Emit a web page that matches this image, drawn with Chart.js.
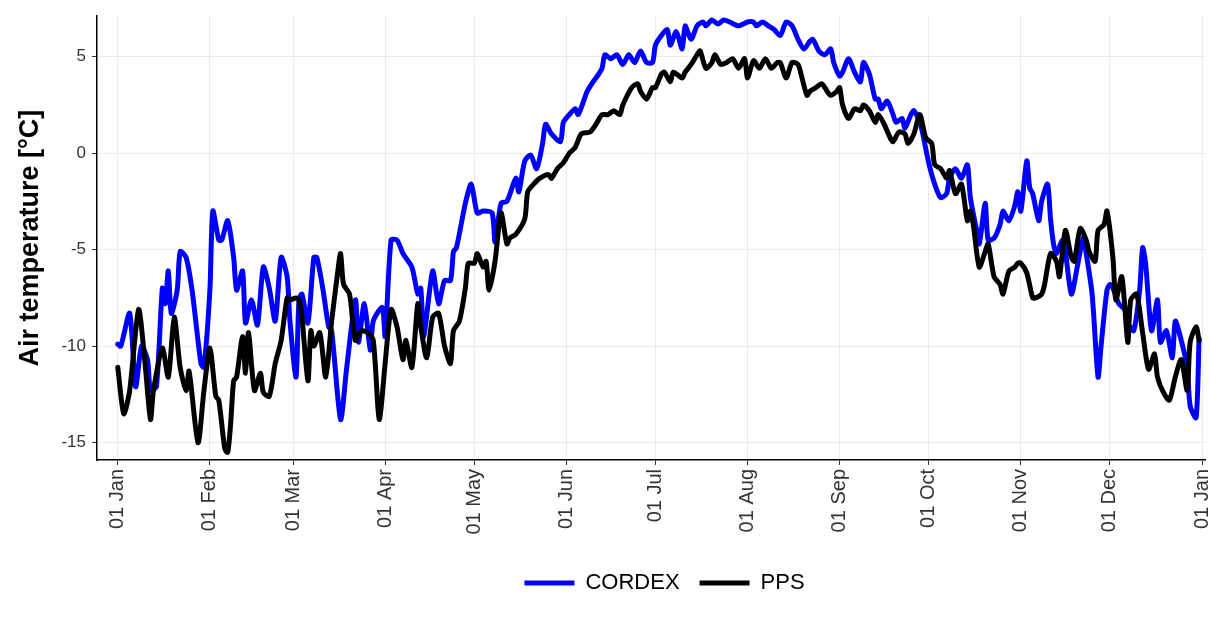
<!DOCTYPE html>
<html>
<head>
<meta charset="utf-8">
<script src="https://cdn.jsdelivr.net/npm/chart.js@4.4.1/dist/chart.umd.min.js"></script>
<style>
  body { margin: 0; background: #fff; }
  #wrap { width: 1211px; height: 622px; }
</style>
</head>
<body>
<div id="wrap"><canvas id="tempChart" width="1211" height="622"></canvas></div>
<script>
// Month tick positions (day of year) and labels
const monthDays = [0, 31, 59, 90, 120, 151, 181, 212, 243, 273, 304, 334, 365];
const monthLabels = ['01 Jan', '01 Feb', '01 Mar', '01 Apr', '01 May', '01 Jun', '01 Jul',
  '01 Aug', '01 Sep', '01 Oct', '01 Nov', '01 Dec', '01 Jan'];
const tempTicks = [-15, -10, -5, 0, 5];

// CORDEX series (day of year, air temperature in °C)
const cordexDays = [0, 1, 4, 6, 8, 10, 11, 13, 15, 16, 17, 18, 20, 21, 23, 25, 28, 29, 31, 32,
  34, 35, 37, 39, 40, 42, 43, 45, 47, 49, 51, 53, 55, 57, 58, 60, 61, 62, 64, 66,
  67, 69, 71, 72, 75, 77, 80, 81, 83, 85, 86, 89, 90, 92, 94, 96, 99, 101, 102, 103,
  106, 108, 110, 112, 113, 114, 117, 119, 121, 123, 126, 127, 129, 131, 134, 135, 137, 139, 141, 143,
  144, 146, 149, 150, 152, 154, 155, 158, 160, 161, 163, 164, 166, 168, 170, 172, 174, 176, 178, 180,
  181, 183, 185, 186, 188, 190, 191, 193, 195, 197, 198, 200, 202, 204, 206, 209, 212, 214, 215, 217,
  219, 221, 223, 225, 227, 229, 231, 233, 234, 236, 238, 240, 241, 243, 244, 246, 248, 250, 251, 253,
  255, 256, 257, 259, 261, 262, 264, 265, 267, 268, 270, 271, 273, 275, 277, 279, 280, 282, 284, 286,
  287, 289, 290, 292, 293, 295, 297, 298, 300, 302, 303, 304, 306, 307, 308, 310, 311, 313, 314, 315,
  316, 318, 319, 321, 323, 325, 326, 328, 330, 331, 333, 334, 335, 337, 339, 340, 342, 344, 345, 346,
  348, 350, 351, 353, 355, 356, 358, 360, 361, 363, 364];
const cordexTemp = [-9.9, -10.0, -8.3, -12.1, -10.0, -10.7, -12.3, -12.1, -7.0, -7.8, -6.1, -8.3, -7.1, -5.1, -5.4, -7.1, -10.9, -11.1, -7.1, -3.0,
  -4.5, -4.5, -3.5, -5.4, -7.1, -6.1, -8.8, -7.6, -8.9, -5.9, -7.0, -8.7, -5.4, -6.4, -8.8, -11.6, -7.6, -7.3, -8.8, -5.4,
  -5.4, -7.0, -9.0, -9.2, -13.8, -11.2, -7.6, -9.8, -7.8, -10.2, -8.7, -8.0, -9.5, -4.5, -4.5, -5.2, -5.9, -7.3, -7.0, -9.5,
  -6.1, -7.8, -6.6, -6.6, -5.1, -4.9, -2.6, -1.6, -3.1, -3.0, -3.1, -4.6, -2.6, -2.5, -1.3, -2.0, -0.4, -0.1, -0.8, 0.5,
  1.5, 1.0, 0.6, 1.6, 2.0, 2.3, 2.0, 3.2, 3.7, 3.9, 4.4, 5.1, 4.9, 5.1, 4.6, 5.1, 4.7, 5.3, 4.7, 4.7,
  5.6, 6.1, 6.4, 5.6, 6.3, 5.4, 6.6, 5.9, 6.6, 6.8, 6.6, 6.9, 6.7, 6.9, 6.8, 6.6, 6.8, 6.8, 6.6, 6.8,
  6.6, 6.4, 6.1, 6.8, 6.6, 5.9, 5.4, 5.8, 5.9, 5.3, 5.1, 5.4, 4.7, 4.0, 4.2, 4.9, 4.2, 3.7, 4.7, 4.1,
  2.8, 2.8, 2.3, 2.7, 2.0, 1.6, 1.8, 1.3, 2.0, 2.2, 1.6, 1.0, -0.5, -1.6, -2.3, -2.1, -1.3, -0.8, -1.3, -0.6,
  -2.3, -3.9, -4.7, -2.6, -4.5, -4.4, -3.7, -3.0, -3.5, -2.7, -2.0, -3.0, -0.4, -1.8, -2.1, -3.5, -2.5, -1.6, -3.4, -4.7,
  -5.2, -4.5, -5.1, -7.3, -5.9, -4.4, -5.2, -7.3, -11.6, -10.0, -7.1, -6.8, -7.0, -7.8, -8.1, -8.8, -9.2, -7.1, -4.9, -5.7,
  -9.2, -7.6, -9.8, -9.2, -10.6, -8.7, -9.7, -11.1, -13.1, -13.7, -9.6];

// PPS series (day of year, air temperature in °C)
const ppsDays = [0, 2, 4, 7, 9, 11, 12, 15, 17, 19, 21, 23, 24, 27, 29, 31, 33, 34, 36, 37,
  38, 39, 40, 42, 43, 44, 46, 48, 49, 51, 53, 55, 57, 58, 60, 61, 62, 64, 65, 66,
  68, 70, 72, 74, 75, 76, 78, 80, 82, 84, 86, 88, 90, 92, 94, 96, 97, 99, 101, 102,
  104, 106, 108, 110, 112, 113, 115, 117, 118, 120, 121, 123, 124, 125, 127, 129, 131, 132, 134, 137,
  138, 140, 142, 145, 146, 148, 150, 152, 154, 156, 159, 161, 163, 165, 167, 169, 170, 173, 175, 176,
  178, 180, 181, 183, 184, 186, 187, 190, 191, 193, 195, 196, 198, 200, 201, 203, 205, 207, 209, 211,
  212, 214, 216, 218, 220, 222, 223, 225, 227, 229, 230, 232, 233, 235, 237, 238, 240, 242, 243, 244,
  246, 248, 250, 251, 253, 255, 256, 258, 260, 261, 263, 265, 266, 268, 270, 272, 274, 275, 277, 279,
  280, 282, 284, 286, 287, 288, 290, 292, 293, 295, 297, 298, 300, 302, 303, 304, 306, 308, 309, 311,
  312, 314, 316, 317, 319, 321, 322, 324, 326, 327, 329, 330, 332, 333, 335, 336, 338, 340, 341, 343,
  345, 347, 349, 350, 352, 354, 356, 358, 360, 361, 363, 364];
const ppsTemp = [-11.1, -13.5, -12.3, -8.1, -10.6, -13.8, -12.3, -10.1, -11.6, -8.5, -11.1, -12.3, -11.3, -15.0, -12.3, -10.1, -12.6, -12.8, -15.3, -15.5,
  -14.0, -11.8, -11.6, -9.5, -11.4, -9.3, -12.3, -11.4, -12.4, -12.6, -10.9, -9.7, -7.5, -7.6, -7.5, -7.6, -8.5, -11.8, -9.2, -10.0,
  -9.3, -11.6, -8.7, -6.2, -5.2, -6.8, -7.3, -9.7, -9.2, -9.3, -9.7, -13.8, -10.9, -8.1, -9.0, -10.7, -9.7, -11.1, -7.8, -9.0,
  -10.6, -8.5, -8.3, -10.0, -10.9, -9.2, -8.7, -7.0, -5.7, -5.7, -5.2, -5.9, -5.6, -7.1, -5.6, -3.1, -4.7, -4.4, -4.2, -3.4,
  -2.0, -1.6, -1.3, -1.1, -1.3, -0.8, -0.5, 0.0, 0.3, 1.0, 1.1, 1.5, 2.0, 2.0, 2.2, 2.0, 2.5, 3.4, 3.6, 3.2,
  2.8, 3.4, 3.4, 4.1, 4.2, 3.7, 4.2, 3.9, 4.2, 4.6, 5.1, 5.3, 4.4, 4.7, 5.1, 4.6, 4.7, 4.9, 4.4, 4.9,
  3.9, 4.8, 4.4, 4.9, 4.4, 4.7, 4.7, 3.9, 4.7, 4.6, 4.1, 3.0, 3.2, 3.4, 3.6, 3.4, 3.0, 3.2, 3.4, 2.5,
  1.8, 2.3, 2.2, 2.5, 2.2, 1.6, 2.0, 1.5, 0.8, 0.6, 1.1, 1.0, 0.5, 1.0, 2.0, 0.8, 0.5, -0.6, -0.8, -1.3,
  -0.9, -2.1, -1.6, -3.5, -3.0, -3.7, -5.9, -5.1, -4.7, -6.4, -6.8, -7.3, -6.1, -5.9, -5.7, -5.7, -6.2, -7.5, -7.5, -7.3,
  -6.8, -5.2, -5.6, -6.4, -4.0, -5.4, -5.6, -3.9, -4.5, -5.1, -5.6, -4.0, -3.7, -3.0, -5.4, -7.6, -6.4, -9.8, -7.6, -7.3,
  -9.3, -11.2, -10.4, -11.6, -12.4, -12.8, -11.6, -10.7, -12.3, -9.8, -9.0, -9.7];

const FONT = 'Liberation Sans, Arial, Helvetica, sans-serif';

function toPoints(days, temps) {
    return days.map((d, i) => ({ x: d, y: temps[i] }));
}

// Nudge the bottom legend to the right, as in the original figure
const legendShift = {
    id: 'legendShift',
    afterLayout(chart) {
        chart.legend.left += 62;
        chart.legend.right += 62;
    }
};

const ctx = document.getElementById('tempChart').getContext('2d');
new Chart(ctx, {
    type: 'line',
    data: {
        datasets: [{
            label: 'CORDEX',
            data: toPoints(cordexDays, cordexTemp),
            borderColor: '#0000ff',
            backgroundColor: '#0000ff',
            borderWidth: 5,
            order: 1
        }, {
            label: 'PPS',
            data: toPoints(ppsDays, ppsTemp),
            borderColor: '#000000',
            backgroundColor: '#000000',
            borderWidth: 5,
            order: 0
        }]
    },
    options: {
        responsive: false,
        animation: false,
        devicePixelRatio: 1,
        layout: { padding: { top: 15, right: 6, bottom: 18, left: 0 } },
        elements: {
            point: { radius: 0 },
            line: { tension: 0.25, borderJoinStyle: 'round', borderCapStyle: 'round', fill: false }
        },
        plugins: {
            tooltip: { enabled: false },
            legend: {
                position: 'bottom',
                labels: {
                    font: { family: FONT, size: 22 },
                    color: '#000',
                    boxWidth: 50,
                    boxHeight: 5,
                    padding: 20,
                    sort: (a, b) => a.datasetIndex - b.datasetIndex,
                    generateLabels: function(chart) {
                        const items = Chart.defaults.plugins.legend.labels.generateLabels(chart);
                        items.forEach(item => {
                            item.fillStyle = item.strokeStyle;
                            item.lineWidth = 0;
                        });
                        return items;
                    }
                }
            }
        },
        scales: {
            x: {
                type: 'linear',
                min: -7,
                max: 366,
                afterBuildTicks: scale => { scale.ticks = monthDays.map(v => ({ value: v })); },
                afterFit: scale => {
                    scale.height = 92;
                    scale.paddingLeft = 0;
                    scale.paddingRight = 0;
                },
                ticks: {
                    minRotation: 90,
                    maxRotation: 90,
                    autoSkip: false,
                    padding: 4,
                    color: '#333',
                    font: { family: FONT, size: 20 },
                    callback: (value, index) => monthLabels[index]
                },
                grid: { color: '#ebebeb', tickColor: '#333', tickLength: 5, lineWidth: 1 },
                border: { display: true, color: '#000', width: 1.5 }
            },
            y: {
                min: -15.9,
                max: 7.1,
                afterBuildTicks: scale => { scale.ticks = tempTicks.map(v => ({ value: v })); },
                afterFit: scale => { scale.width = 97; },
                ticks: {
                    padding: 6,
                    color: '#333',
                    font: { family: FONT, size: 17 },
                    callback: value => String(value)
                },
                grid: { color: '#ebebeb', tickColor: '#333', tickLength: 5, lineWidth: 1 },
                border: { display: true, color: '#000', width: 1.5 },
                title: {
                    display: true,
                    text: 'Air temperature [°C]',
                    color: '#000',
                    font: { family: FONT, size: 27, weight: 'bold' },
                    padding: { top: 14, bottom: 0 }
                }
            }
        }
    },
    plugins: [legendShift]
});
</script>
</body>
</html>
